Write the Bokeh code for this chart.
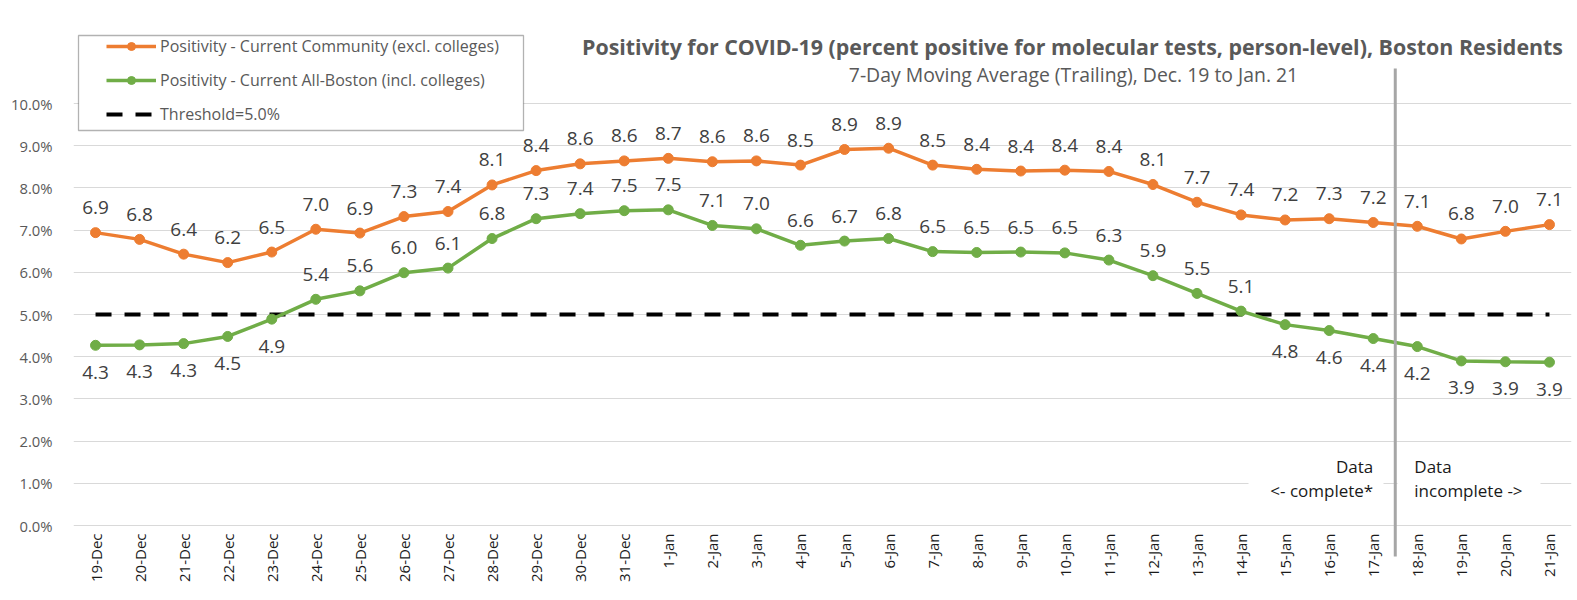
from bokeh.plotting import figure
from bokeh.models import (FactorRange, Range1d, FixedTicker, PrintfTickFormatter,
                          ColumnDataSource, Legend, LegendItem, BoxAnnotation, Label)
from bokeh.transform import dodge
from bokeh.core.properties import value
from bokeh.embed import file_html
from bokeh.resources import INLINE
import math

# ---------------- data ----------------
dates = ["19-Dec", "20-Dec", "21-Dec", "22-Dec", "23-Dec", "24-Dec", "25-Dec", "26-Dec",
         "27-Dec", "28-Dec", "29-Dec", "30-Dec", "31-Dec", "1-Jan", "2-Jan", "3-Jan",
         "4-Jan", "5-Jan", "6-Jan", "7-Jan", "8-Jan", "9-Jan", "10-Jan", "11-Jan",
         "12-Jan", "13-Jan", "14-Jan", "15-Jan", "16-Jan", "17-Jan", "18-Jan", "19-Jan",
         "20-Jan", "21-Jan"]
community = [6.94, 6.78, 6.43, 6.23, 6.48, 7.02, 6.93, 7.32, 7.44, 8.07,
             8.41, 8.57, 8.64, 8.70, 8.62, 8.64, 8.54, 8.91, 8.94, 8.54,
             8.44, 8.40, 8.42, 8.39, 8.08, 7.66, 7.36, 7.24, 7.27, 7.18,
             7.09, 6.79, 6.97, 7.13]
all_boston = [4.27, 4.28, 4.31, 4.48, 4.89, 5.36, 5.56, 5.99, 6.10, 6.80,
              7.27, 7.39, 7.46, 7.48, 7.11, 7.03, 6.64, 6.74, 6.80, 6.49,
              6.47, 6.48, 6.46, 6.29, 5.92, 5.50, 5.08, 4.76, 4.62, 4.43,
              4.24, 3.90, 3.88, 3.87]
threshold = 5.0
complete_through = "17-Jan"
y_ticks = [0, 1, 2, 3, 4, 5, 6, 7, 8, 9, 10]

name_community = "Positivity - Current Community (excl. colleges)"
name_all = "Positivity - Current All-Boston (incl. colleges)"
name_threshold = "Threshold=5.0%"
title_text = "Positivity for COVID-19 (percent positive for molecular tests, person-level), Boston Residents"
subtitle_text = "7-Day Moving Average (Trailing), Dec. 19 to Jan. 21"
note_left = ["Data", "<- complete*"]
note_right = ["Data", "incomplete ->"]

# ---------------- layout helpers (page pixels) ----------------
W, H = 1577, 600
LEFT = 73
RIGHT = 6
ZERO_Y = 525        # px of 0%
PX_PCT = 42.2       # px per 1 percentage point
CAT_W = (W - LEFT - RIGHT) / len(dates)

def yd(py):
    return (ZERO_Y - py) / PX_PCT

def xd(px):
    return (px - LEFT) / CAT_W

ORANGE = "#ED7D31"
GREEN = "#70AD47"
FONT = "Open Sans"

p = figure(width=W, height=H,
           x_range=FactorRange(factors=dates),
           y_range=Range1d(yd(H), yd(0)),
           x_axis_location=None,
           output_backend="svg", toolbar_location=None,
           min_border_left=LEFT, min_border_right=RIGHT,
           min_border_top=0, min_border_bottom=0)
p.outline_line_color = None
p.background_fill_color = "white"
p.border_fill_color = "white"

# y axis
ax = p.yaxis[0]
ax.ticker = FixedTicker(ticks=y_ticks)
ax.formatter = PrintfTickFormatter(format="%.1f%%")
ax.axis_line_color = None
ax.major_tick_line_color = None
ax.minor_tick_line_color = None
ax.major_label_standoff = 15
ax.major_label_text_font = FONT
ax.major_label_text_font_size = "14.8px"
ax.major_label_text_color = "#595959"
p.ygrid.grid_line_color = "#d9d9d9"
p.ygrid.grid_line_width = 1
p.xgrid.visible = False

src = ColumnDataSource(dict(
    x=dates, c=community, a=all_boston,
    th=[threshold] * len(dates),
    c_lab=[f"{v:.1f}" for v in community],
    a_lab=[f"{v:.1f}" for v in all_boston],
    a_off=[27 if v < threshold else -25 for v in all_boston],
))

# white text boxes for notes
p.quad(left=[xd(1248), xd(1397)], right=[xd(1383), xd(1540)],
       top=[yd(452), yd(452)], bottom=[yd(503), yd(503)],
       fill_color="white", line_color=None)

# threshold
r_th = p.line("x", "th", source=src, line_color="black", line_width=4,
              line_dash="16 13")

# series
r_cl = p.line("x", "c", source=src, line_color=ORANGE, line_width=3.5)
r_cs = p.scatter("x", "c", source=src, size=10, fill_color=ORANGE, line_color=ORANGE)
r_al = p.line("x", "a", source=src, line_color=GREEN, line_width=3.5)
r_as = p.scatter("x", "a", source=src, size=10, fill_color=GREEN, line_color=GREEN)

# divider line between complete / incomplete data
div_src = ColumnDataSource(dict(x=[complete_through]))
p.segment(x0=dodge("x", 0.5, range=p.x_range), x1=dodge("x", 0.5, range=p.x_range),
          y0=yd(68), y1=yd(556), source=div_src, line_color="#a6a6a6", line_width=3)

# data labels
p.text("x", "c", text="c_lab", source=src, y_offset=-25, text_align="center",
       text_baseline="middle", text_font=value(FONT), text_font_size="19px",
       text_color="#404040")
p.text("x", "a", text="a_lab", source=src, y_offset="a_off", text_align="center",
       text_baseline="middle", text_font=value(FONT), text_font_size="19px",
       text_color="#404040")

# x tick labels (rotated)
p.text("x", 0, text="x", source=src, angle=math.pi / 2, y_offset=8,
       text_align="right", text_baseline="middle", text_font=value(FONT),
       text_font_size="15px", text_color="#1a1a1a")

# notes
for i, t in enumerate(note_left):
    p.text(x=[complete_through], y=[yd(466 + 24 * i)], text=[t], text_align="right",
           text_baseline="middle", text_font=value(FONT), text_font_size="17px",
           text_color="#1a1a1a")
nxt = dates[dates.index(complete_through) + 1]
for i, t in enumerate(note_right):
    p.text(x=[nxt], y=[yd(466 + 24 * i)], text=[t], text_align="left", x_offset=-3,
           text_baseline="middle", text_font=value(FONT), text_font_size="17px",
           text_color="#1a1a1a")

# title + subtitle
p.add_layout(Label(x=xd(1072), y=yd(46), text=title_text, text_align="center",
                   text_baseline="middle", text_font=FONT, text_font_size="21.4px",
                   text_font_style="bold", text_color="#595959"))
p.add_layout(Label(x=xd(1073), y=yd(74), text=subtitle_text, text_align="center",
                   text_baseline="middle", text_font=FONT, text_font_size="19.4px",
                   text_color="#595959"))

# legend box + legend
p.add_layout(BoxAnnotation(left=xd(78), right=xd(523), top=yd(35), bottom=yd(130),
                           fill_color="white", fill_alpha=1.0,
                           line_color="black", line_width=1.3))
legend = Legend(items=[LegendItem(label=name_community, renderers=[r_cl, r_cs]),
                       LegendItem(label=name_all, renderers=[r_al, r_as]),
                       LegendItem(label=name_threshold, renderers=[r_th])],
                location=(106 - 6 - LEFT, H - 131),
                border_line_alpha=0, background_fill_alpha=0,
                padding=6, spacing=12, margin=0,
                glyph_width=50, glyph_height=20, label_height=20, label_standoff=4,
                label_text_font=FONT, label_text_font_size="16px",
                label_text_color="#595959")
p.add_layout(legend)

open("out.html", "w").write(file_html(p, INLINE))
